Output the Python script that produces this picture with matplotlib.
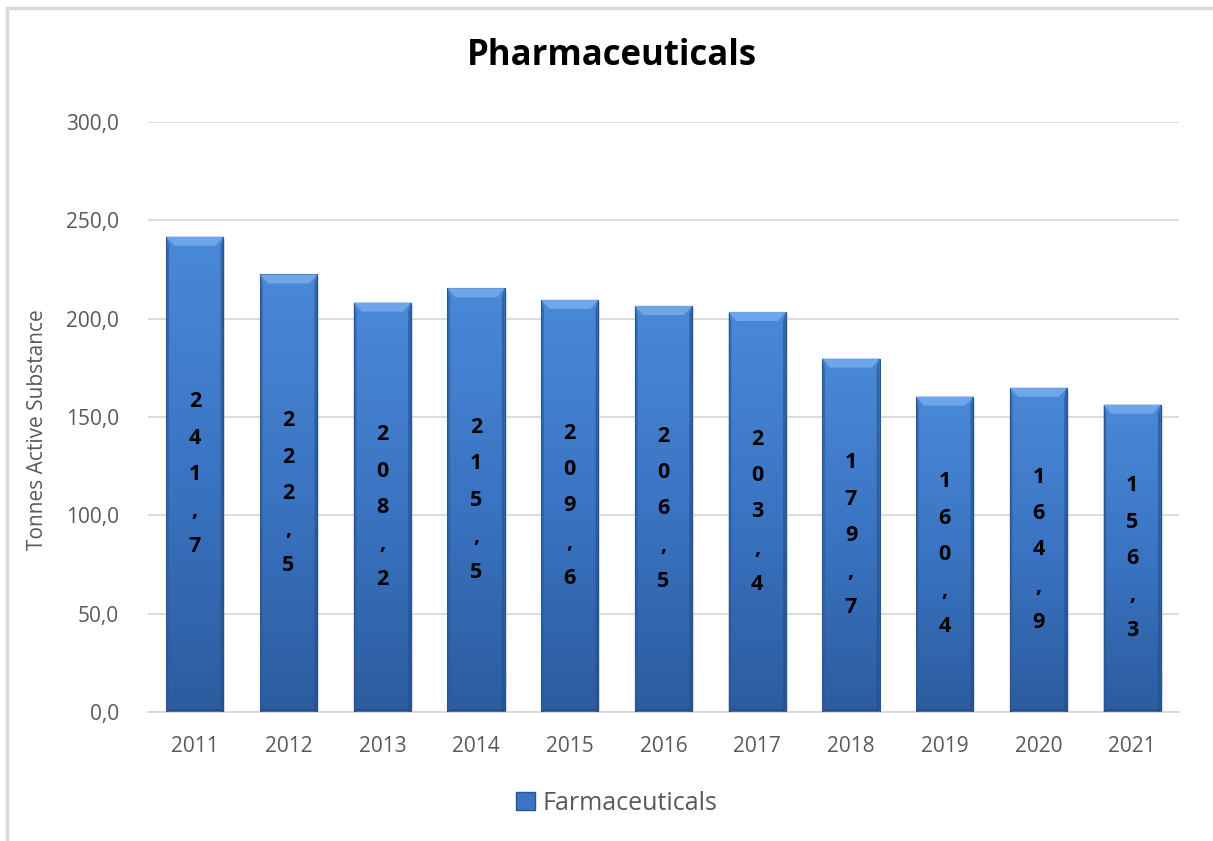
import matplotlib
matplotlib.use("Agg")
import matplotlib.pyplot as plt
import numpy as np
from matplotlib.patches import Polygon, Rectangle
from matplotlib.colors import LinearSegmentedColormap

years = ["2011", "2012", "2013", "2014", "2015", "2016", "2017", "2018", "2019", "2020", "2021"]
values = [241.7, 222.5, 208.2, 215.5, 209.6, 206.5, 203.4, 179.7, 160.4, 164.9, 156.3]
yticks = [0, 50, 100, 150, 200, 250, 300]

plt.rcParams['font.family'] = ['Open Sans', 'DejaVu Sans']

fig = plt.figure(figsize=(12.13, 8.41), dpi=100)
ax = fig.add_axes([148/1213, 129/841, (1179-148)/1213, (712-122)/841])

# chart border
fig.patches.append(Rectangle((7/1213, -0.01), 1.1, (841-8)/841 + 0.01, transform=fig.transFigure,
                             fill=False, edgecolor='#d9d9d9', linewidth=2.5, zorder=0))

x = np.arange(len(years))
width = 0.61
cmap = LinearSegmentedColormap.from_list('b', ['#2c5c9f', '#3a74c2', '#4a89d8'])
bars = ax.bar(x, values, width=width, color='none', edgecolor='#2a558f', linewidth=0.8, zorder=3)
grad = np.linspace(0, 1, 256).reshape(-1, 1)
for b in bars:
    bx, bw, bh = b.get_x(), b.get_width(), b.get_height()
    # shadow
    ax.add_patch(Rectangle((bx + 0.02, -1.2), bw, bh, facecolor='#bfbfbf', alpha=0.5,
                           edgecolor='none', zorder=2))
    im = ax.imshow(grad, extent=(bx, bx + bw, 0, bh), origin='lower', cmap=cmap,
                   aspect='auto', zorder=2.5)
    im.set_clip_path(b)
    # bevel top
    dx = 0.085
    dy = 4.6
    ax.add_patch(Polygon([(bx, bh), (bx + bw, bh), (bx + bw - dx, bh - dy), (bx + dx, bh - dy)],
                         closed=True, facecolor='#6fa6ea', edgecolor='none', zorder=3.2))
    # side bevels
    ax.add_patch(Polygon([(bx, bh), (bx + dx * 0.35, bh - dy), (bx + dx * 0.35, 0), (bx, 0)],
                         closed=True, facecolor='#2b5a99', alpha=0.6, edgecolor='none', zorder=3.1))
    ax.add_patch(Polygon([(bx + bw, bh), (bx + bw - dx * 0.35, bh - dy), (bx + bw - dx * 0.35, 0), (bx + bw, 0)],
                         closed=True, facecolor='#244d85', alpha=0.6, edgecolor='none', zorder=3.1))
    # bottom bevel
    ax.add_patch(Polygon([(bx, 0), (bx + bw, 0), (bx + bw - dx * 0.35, 1.5), (bx + dx * 0.35, 1.5)],
                         closed=True, facecolor='#234a80', alpha=0.7, edgecolor='none', zorder=3.1))

for xi, v in zip(x, values):
    s = f"{v:.1f}".replace('.', ',')
    ax.text(xi, v / 2, "\n".join(s), ha='center', va='center', fontsize=15.5,
            fontweight='bold', color='black', linespacing=1.95, zorder=5)

ax.set_xlim(-0.5, len(years) - 0.5)
ax.set_ylim(0, 300)
ax.set_yticks(yticks)
ax.set_yticklabels([f"{t:.1f}".replace('.', ',') for t in yticks])
ax.set_xticks(x)
ax.set_xticklabels(years)
ax.tick_params(axis='both', length=0, labelsize=15, colors='#595959')
ax.tick_params(axis='y', pad=21)
ax.tick_params(axis='x', pad=17)
ax.grid(axis='y', color='#d9d9d9', linewidth=1.3, zorder=0)
ax.set_axisbelow(True)
for sp in ['top', 'right', 'left']:
    ax.spines[sp].set_visible(False)
ax.spines['bottom'].set_color('#d9d9d9')
ax.spines['bottom'].set_linewidth(1.3)

ax.set_ylabel("Tonnes Active Substance", fontsize=15, color='#595959')
ax.yaxis.set_label_coords(48/1213, (841 - 430)/841, transform=fig.transFigure)
fig.text(612/1213, 1 - 56/841, "Pharmaceuticals", ha='center', va='center',
         fontsize=25, fontweight='bold', color='black')

# legend
leg_handle = Rectangle((0, 0), 1, 1, facecolor='#3a74c2', edgecolor='#2a558f')
fig.legend([leg_handle], ["Farmaceuticals"], loc='center', bbox_to_anchor=(617/1213, 1 - 803/841),
           frameon=False, fontsize=18, labelcolor='#595959', handlelength=0.75, handleheight=0.75,
           handletextpad=0.3)

fig.savefig("out.png", dpi=100)
